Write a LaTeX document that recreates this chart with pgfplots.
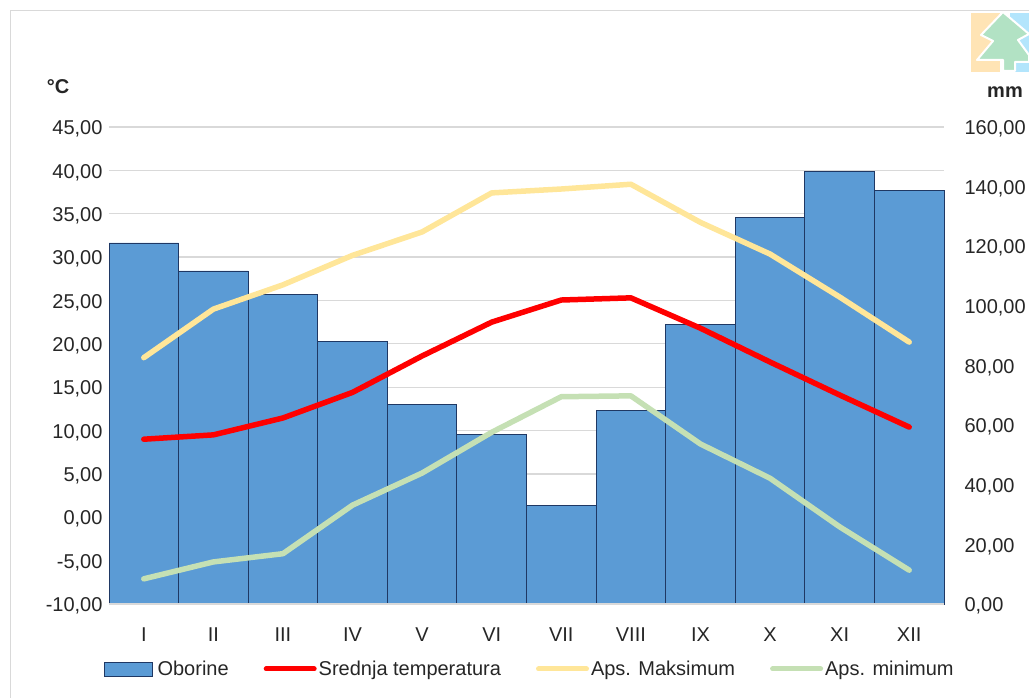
\documentclass[border=0pt]{standalone}
\usepackage{pgfplots}
\pgfplotsset{compat=1.18}
\usepackage{fontspec}
\setmainfont{Liberation Sans}
\definecolor{gridc}{HTML}{D9D9D9}
\definecolor{barf}{HTML}{5B9BD5}
\definecolor{bard}{HTML}{1F3864}
\definecolor{maxc}{HTML}{FFE699}
\definecolor{minc}{HTML}{C5E0B4}
\definecolor{txt}{HTML}{262626}
\definecolor{logoo}{HTML}{FFE4B5}
\definecolor{logob}{HTML}{B3E5FC}
\definecolor{logog}{HTML}{B2E2C4}
\pgfplotsset{
  base/.style={
    at={(109pt,94pt)}, anchor=south west, scale only axis,
    width=835pt, height=477pt,
    xmin=0.5, xmax=12.5,
    clip=false,
    tick style={draw=none},
    tick label style={font=\fontsize{20}{24}\selectfont, text=txt},
    /pgf/number format/.cd, fixed, fixed zerofill, precision=2, use comma, 1000 sep={}, assume math mode=true,
  }
}
\pgfplotstableread{
m v
1 121.1
2 111.7
3 103.7
4 88.2
5 66.8
6 57.0
7 32.9
8 64.8
9 93.9
10 129.5
11 145.0
12 138.6
}\oborine
\pgfplotstableread{
m s a n
1 9.0 18.4 -7.1
2 9.5 24.0 -5.15
3 11.45 26.8 -4.2
4 14.4 30.2 1.4
5 18.6 32.9 5.1
6 22.5 37.4 9.8
7 25.05 37.85 13.9
8 25.3 38.4 14.0
9 21.8 34.0 8.45
10 17.9 30.35 4.5
11 14.1 25.4 -1.1
12 10.4 20.2 -6.1
}\temps
\begin{document}
\begin{tikzpicture}[x=1pt,y=1pt]
\path[use as bounding box] (0,0) rectangle (1029,698);
\draw[gridc,line width=1.2pt] (10.5,0) -- (10.5,687.5) -- (1029,687.5);
% logo
\fill[logoo] (970.7,626) rectangle (1000,685);
\fill[logob] (1010,626) rectangle (1029,685);
\filldraw[fill=logog, draw=white, line width=2pt, line join=round]
 (1003,686) -- (981,663) -- (993,657) -- (977,638) -- (1003,638) -- (1003,627) -- (1015,627) -- (1015,636) -- (1029,636) -- (1029,643) -- (1018,658) -- (1029,664) -- cycle;
\begin{axis}[base,
  axis line style={draw=none},
  ymin=-10, ymax=45, ytick={-10,-5,...,45},
  ymajorgrids, grid style={gridc,line width=1.2pt},
  xtick={1,...,12},
  xticklabels={I,II,III,IV,V,VI,VII,VIII,IX,X,XI,XII},
  yticklabel style={xshift=-3pt,yshift=-2pt},
  xticklabel style={yshift=-20pt},
]
\end{axis}
\begin{axis}[base,
  axis x line=none, axis y line*=right, y axis line style={draw=none},
  ymin=0, ymax=160, ytick={0,20,...,160},
  yticklabel style={xshift=17pt,yshift=-2pt},
]
\addplot[ybar, bar width=69.58pt, bar shift=0pt, fill=barf, draw=bard, line width=0.9pt] table[x=m,y=v]{\oborine};
\end{axis}
\begin{axis}[base,
  axis x line*=bottom, axis y line=none, xtick=\empty,
  x axis line style={gridc,line width=2.4pt,-},
  ymin=-10, ymax=45,
  legend columns=4,
  legend style={at={(-5pt,-65pt)}, anchor=west, draw=none, fill=none,
    font=\fontsize{20}{24}\selectfont, text=txt, inner sep=0pt,
    /tikz/every even column/.append style={column sep=3pt}},
  legend cell align=left,
]
\addlegendimage{legend image code/.code={\path[draw=none] (0pt,0pt) -- (51pt,0pt);\filldraw[fill=barf,draw=bard,line width=0.7pt] (0pt,-7pt) rectangle (48pt,7pt);}}
\addlegendentry{Oborine\rule{30pt}{0pt}}
\addplot[red, line width=5.5pt, line join=round, line cap=round, forget plot] table[x=m,y=s]{\temps};
\addplot[maxc, line width=5.5pt, line join=round, line cap=round, forget plot] table[x=m,y=a]{\temps};
\addplot[minc, line width=5.5pt, line join=round, line cap=round, forget plot] table[x=m,y=n]{\temps};
\addlegendimage{legend image code/.code={\path[draw=none] (0pt,0pt) -- (51.5pt,0pt);\draw[red,line width=5pt,line cap=round] (2pt,0pt) -- (50pt,0pt);}}
\addlegendentry{Srednja temperatura\rule{30pt}{0pt}}
\addlegendimage{legend image code/.code={\path[draw=none] (0pt,0pt) -- (51.5pt,0pt);\draw[maxc,line width=5pt,line cap=round] (2pt,0pt) -- (50pt,0pt);}}
\addlegendentry{Aps. Maksimum\rule{30pt}{0pt}}
\addlegendimage{legend image code/.code={\path[draw=none] (0pt,0pt) -- (51.5pt,0pt);\draw[minc,line width=5pt,line cap=round] (2pt,0pt) -- (50pt,0pt);}}
\addlegendentry{Aps. minimum}
\end{axis}
\node[font=\fontsize{20}{24}\selectfont\bfseries, text=txt] at (58,611) {°C};
\node[font=\fontsize{20}{24}\selectfont\bfseries, text=txt] at (1005,606) {mm};
\end{tikzpicture}
\end{document}
